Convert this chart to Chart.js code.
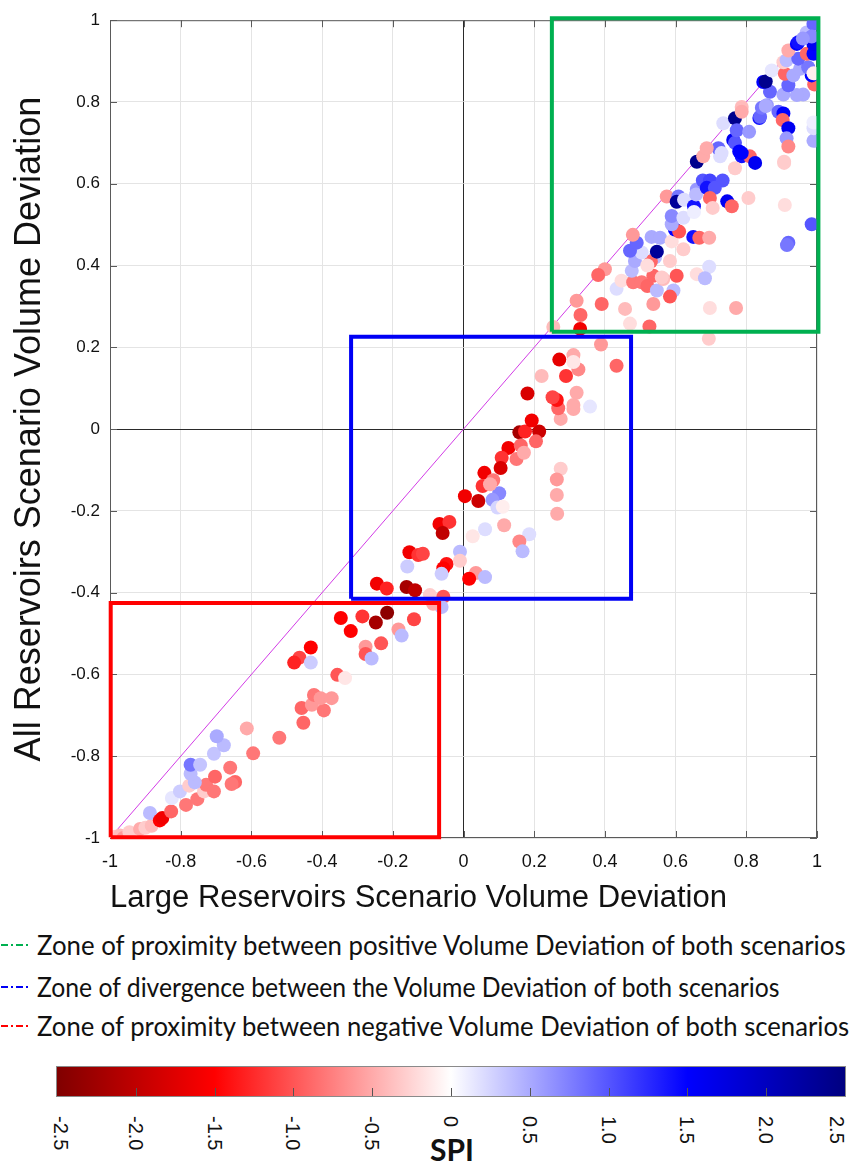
<!DOCTYPE html>
<html>
<head>
<meta charset="utf-8">
<title>Volume Deviation of both scenarios</title>
<script src="https://cdn.jsdelivr.net/npm/chart.js@4.4.1/dist/chart.umd.min.js"></script>
<style>
  html, body { margin: 0; padding: 0; background: #fff; }
  body { position: relative; width: 866px; height: 1165px; overflow: hidden; }
  #plotCanvas { position: absolute; left: 0; top: 0; }
  .legend-row { position: absolute; left: 0; width: 866px; height: 40px; }
  .legend-row svg { position: absolute; left: 0; top: 16px; }
  .legend-row span {
    position: absolute; left: 37px; top: 0; line-height: 40px; white-space: nowrap; color: #111;
    font-family: Lato, "Open Sans", sans-serif; transform-origin: 0 50%;
  }
  #colorbar {
    position: absolute; left: 56px; top: 1066px; width: 790px; height: 31px;
    box-sizing: border-box; border: 1px solid #8a8a8a;
  }
  .cb-tick { position: absolute; bottom: 0; width: 1px; height: 8px; background: #555; }
  .cb-label {
    position: absolute; top: 1116px; writing-mode: vertical-rl; line-height: 1;
    font-family: "Liberation Sans", Arial, sans-serif; font-size: 20px; color: #111;
    transform: translateX(-50%);
  }
  #spiLabel {
    position: absolute; left: 452px; top: 1132px; transform: translateX(-50%);
    font-family: Lato, "Open Sans", sans-serif;
    font-weight: bold; font-size: 30px; line-height: 34px; color: #111;
  }
</style>
</head>
<body>
<canvas id="plotCanvas" width="866" height="920"></canvas>
<div id="legend"></div>
<div id="colorbar"></div>
<div id="spiLabel">SPI</div>
<script>
// Large reservoirs (x) vs all reservoirs (y) volume deviation, coloured by SPI
const largeDev = [
  -0.985, -0.972, -0.962, -0.945, -0.915, -0.9, -0.882, -0.887, -0.859, -0.852,
  -0.827, -0.825, -0.802, -0.785, -0.753, -0.776, -0.734, -0.728, -0.706, -0.76,
  -0.772, -0.772, -0.745, -0.706, -0.678, -0.698, -0.66, -0.703, -0.646, -0.656,
  -0.613, -0.595, -0.521, -0.453, -0.458, -0.429, -0.395, -0.423, -0.404, -0.373,
  -0.357, -0.335, -0.432, -0.464, -0.479, -0.432, -0.347, -0.319, -0.286, -0.248,
  -0.216, -0.14, -0.184, -0.175, -0.233, -0.277, -0.277, -0.26,
  -0.245, -0.217, -0.161, -0.137, -0.095, -0.057, -0.062, -0.086, -0.153, -0.128,
  -0.115, -0.159, -0.048, -0.057, -0.062, -0.01, -0.01, 0.035, 0.016, 0.061,
  -0.068, -0.04, -0.059, 0.026, 0.061, 0.115, 0.186, 0.158, 0.167, 0.004,
  0.042, 0.101, 0.082, 0.096, 0.111, 0.059, 0.084, 0.054, 0.075, 0.127,
  0.108, 0.15, 0.105, 0.158, 0.174, 0.214, 0.205, 0.162, 0.171, 0.193,
  0.275, 0.264, 0.264, 0.265, 0.275, 0.268, 0.264, 0.252, 0.181, 0.311,
  0.311, 0.358, 0.32, 0.221, 0.29, 0.325, 0.271, 0.311, 0.311, 0.389, 0.433,
  0.33, 0.254, 0.331, 0.32, 0.391, 0.4, 0.381, 0.457, 0.471, 0.526,
  0.537, 0.433, 0.447, 0.48, 0.504, 0.52, 0.547, 0.565, 0.594, 0.584,
  0.537, 0.561, 0.603, 0.66, 0.695, 0.683, 0.697, 0.771, 0.694, 0.476,
  0.485, 0.542, 0.53, 0.52, 0.584, 0.504, 0.547, 0.471, 0.49, 0.479,
  0.532, 0.556, 0.589, 0.622, 0.598, 0.61, 0.589, 0.589, 0.622, 0.65,
  0.667, 0.695, 0.575, 0.608, 0.603, 0.624, 0.652, 0.652, 0.66, 0.658,
  0.677, 0.697, 0.733, 0.688, 0.711, 0.697, 0.705, 0.746, 0.759, 0.806,
  0.909, 0.985, 0.919, 0.915,
  0.66, 0.678, 0.726, 0.787, 0.81, 0.825, 0.768, 0.907, 0.787, 0.721,
  0.73, 0.688, 0.763, 0.768, 0.78, 0.735, 0.768, 0.773, 0.808, 0.837,
  0.839, 0.858, 0.787, 0.787, 0.844, 0.855, 0.891, 0.905, 0.903, 0.919,
  0.914, 0.919, 0.99, 0.99, 0.99, 0.907, 0.867, 0.905, 0.961, 0.943,
  0.848, 0.855, 0.919, 0.992, 0.872, 0.909, 0.933, 0.985, 0.952, 0.975,
  0.99, 0.905, 0.914, 0.947, 0.971, 0.99, 0.919, 0.943, 0.947, 0.99,
  0.971, 0.99, 0.985, 0.96
];
const allDev = [
  -0.997, -0.994, -1.0, -0.986, -0.978, -0.975, -0.97, -0.939, -0.957, -0.951,
  -0.935, -0.902, -0.886, -0.919, -0.905, -0.872, -0.886, -0.87, -0.886, -0.864,
  -0.843, -0.821, -0.821, -0.794, -0.773, -0.751, -0.828, -0.85, -0.863, -0.868,
  -0.732, -0.793, -0.755, -0.718, -0.682, -0.674, -0.688, -0.65, -0.658, -0.658,
  -0.601, -0.609, -0.534, -0.559, -0.571, -0.571, -0.462, -0.494, -0.458, -0.473,
  -0.449, -0.465, -0.49, -0.505, -0.524, -0.532, -0.55, -0.561,
  -0.378, -0.39, -0.386, -0.394, -0.406, -0.41, -0.435, -0.427, -0.301, -0.308,
  -0.305, -0.336, -0.33, -0.34, -0.354, -0.3, -0.322, -0.352, -0.366, -0.362,
  -0.232, -0.227, -0.254, -0.262, -0.245, -0.235, -0.257, -0.275, -0.299, -0.164,
  -0.176, -0.157, -0.173, -0.192, -0.19, -0.107, -0.125, -0.139, -0.135, -0.046,
  -0.07, -0.073, -0.095, -0.008, -0.006, -0.006, -0.03, -0.04, -0.058, 0.021,
  -0.097, -0.123, -0.161, -0.207, 0.025, 0.051, 0.071, 0.078, 0.087, 0.059,
  0.049, 0.055, 0.089, 0.13, 0.13, 0.146, 0.17, 0.181, 0.164, 0.207, 0.155,
  0.245, 0.25, 0.279, 0.314, 0.306, 0.391, 0.377, 0.294, 0.258, 0.251,
  0.306, 0.343, 0.363, 0.359, 0.359, 0.35, 0.339, 0.367, 0.339, 0.324,
  0.375, 0.371, 0.375, 0.379, 0.397, 0.369, 0.296, 0.296, 0.221, 0.387,
  0.411, 0.42, 0.41, 0.4, 0.411, 0.432, 0.434, 0.436, 0.456, 0.475,
  0.47, 0.468, 0.459, 0.44, 0.488, 0.483, 0.501, 0.521, 0.517, 0.47,
  0.468, 0.468, 0.569, 0.569, 0.556, 0.561, 0.545, 0.531, 0.586, 0.574,
  0.608, 0.608, 0.608, 0.59, 0.59, 0.565, 0.541, 0.557, 0.545, 0.565,
  0.548, 0.501, 0.456, 0.45,
  0.654, 0.667, 0.667, 0.667, 0.667, 0.651, 0.638, 0.651, 0.675, 0.687,
  0.675, 0.687, 0.707, 0.7, 0.679, 0.748, 0.76, 0.731, 0.727, 0.761,
  0.764, 0.792, 0.788, 0.776, 0.786, 0.79, 0.776, 0.772, 0.756, 0.736,
  0.711, 0.691, 0.705, 0.736, 0.75, 0.654, 0.825, 0.818, 0.818, 0.817,
  0.849, 0.85, 0.841, 0.843, 0.877, 0.869, 0.865, 0.865, 0.881, 0.885,
  0.87, 0.897, 0.902, 0.906, 0.918, 0.918, 0.926, 0.942, 0.946, 0.942,
  0.97, 0.991, 0.96, 0.955
];
const spiValues = [
  -0.3, -0.4, -0.6, -0.3, -0.5, -0.3, -0.4, 0.4, -1.5, -1.6,
  -0.9, 0.15, 0.3, -0.8, -0.8, -0.3, -0.3, -0.8, -0.8, 0.4,
  0.4, 0.8, 0.35, 0.35, 0.4, 0.5, -0.8, -0.9, -0.9, -0.8,
  -0.5, -0.8, -0.8, -0.9, -0.9, -0.6, -0.8, -0.8, -0.6, -0.6,
  -1.0, -0.15, -1.5, -1.1, -1.3, 0.3, -1.5, -1.5, -1.2, -2.2,
  -2.4, -1.1, -0.6, 0.4, -1.0, -0.6, -1.0, 0.4,
  -1.6, -1.3, -2.2, -2.0, -0.3, -1.0, 0.4, -0.5, -1.6, -1.2,
  -1.1, 0.3, -1.4, -1.5, 0.3, 0.4, -0.3, -0.6, -1.5, 0.4,
  -1.6, -1.2, -2.0, -0.15, 0.2, -0.5, 0.2, -0.7, 0.4, -1.6,
  -1.9, 0.7, 0.6, 0.25, -0.1, -1.6, -0.8, -1.2, -0.5, -1.6,
  -1.2, -0.8, -1.8, -2.2, -1.3, -1.9, -0.9, -0.9, -0.5, -1.6,
  -0.3, -0.6, -0.5, -0.5, -0.5, -0.9, -1.4, -1.1, -1.8, -0.5,
  -0.5, 0.15, -0.5, -0.4, -1.2, -0.7, -1.7, -0.5, -0.15, -0.6, -0.9,
  -1.6, -0.4, -0.9, -0.6, -0.9, -0.6, -0.9, -0.4, -0.2, -0.9,
  -0.6, 0.2, -0.2, -0.8, -0.8, -0.9, 0.4, -0.4, 0.4, -1.0,
  -0.9, -0.3, -1.0, -0.2, 0.2, 0.4, -0.2, -0.5, -0.3, 0.4,
  0.5, 0.4, -0.9, -0.2, -0.3, 0.2, 2.3, 0.9, 0.9, -0.6,
  0.5, 0.5, -0.2, -0.3, 1.5, -1.0, 0.5, 0.7, 0.2, 1.4,
  -0.9, -0.5, -0.6, 0.8, 2.3, 0.2, 1.4, 0.1, 0.6, 0.4,
  1.0, 1.1, 1.0, 1.4, 1.0, -0.9, -0.3, 1.6, -0.9, -0.3,
  -0.2, 1.0, 0.9, 0.8,
  2.4, -0.5, 0.2, 1.4, -0.9, 1.6, -0.3, -0.3, 1.5, 0.9,
  0.2, -0.5, 1.6, 1.0, 1.5, 0.2, 2.4, 0.9, 0.6, 1.4,
  0.9, 0.6, -0.4, -0.5, 0.8, 0.5, 0.9, 1.5, -0.9, 1.6,
  0.6, -0.7, 0.5, 0.2, 0.1, -0.3, 0.9, 0.5, 0.5, 0.5,
  1.5, 2.4, 0.9, -0.9, 0.15, -0.9, 0.5, 1.5, 0.5, 0.8,
  -0.1, -0.3, 0.4, 0.9, -0.9, 1.5, -0.5, 1.5, 1.4, 1.6,
  0.4, 0.9, 0.7, 0.6
];

// zones drawn as boxes, in data units
const zoneNames = [
  'Zone of proximity between positive Volume Deviation of both scenarios',
  'Zone of divergence between the Volume Deviation of both scenarios',
  'Zone of proximity between negative Volume Deviation of both scenarios'
];
const zoneXMin = [0.25, -0.318, -0.998];
const zoneXMax = [1.004, 0.474, -0.069];
const zoneYMin = [0.238, -0.415, -0.998];
const zoneYMax = [1.005, 0.226, -0.425];
const zoneColors = ['#00b050', '#0000f5', '#ff0000'];

// SPI colour scale
const spiStops = [-2.5, -1.5, 0, 1.5, 2.5];
const spiStopColors = [[128, 0, 0], [255, 0, 0], [255, 255, 255], [0, 0, 255], [0, 0, 128]];
const spiTicks = [-2.5, -2.0, -1.5, -1.0, -0.5, 0, 0.5, 1.0, 1.5, 2.0, 2.5];
const spiTickLabels = ['-2.5', '-2.0', '-1.5', '-1.0', '-0.5', '0', '0.5', '1.0', '1.5', '2.0', '2.5'];

const xTitle = 'Large Reservoirs Scenario Volume Deviation';
const yTitle = 'All Reservoirs Scenario Volume Deviation';

const sansFamily = '"Liberation Sans", Arial, sans-serif';
const legendFamily = 'Lato, "Open Sans", sans-serif';

function spiColor(v) {
    const s = Math.max(spiStops[0], Math.min(spiStops[spiStops.length - 1], v));
    for (let i = 0; i < spiStops.length - 1; i++) {
        if (s <= spiStops[i + 1]) {
            const t = (s - spiStops[i]) / (spiStops[i + 1] - spiStops[i]);
            const a = spiStopColors[i], b = spiStopColors[i + 1];
            const c = a.map((ch, k) => Math.round(ch + (b[k] - ch) * t));
            return `rgb(${c[0]}, ${c[1]}, ${c[2]})`;
        }
    }
    return 'rgb(0, 0, 128)';
}

function textWidth(text, font) {
    const ctx = document.createElement('canvas').getContext('2d');
    ctx.font = font;
    return ctx.measureText(text).width;
}

function fitFontSize(text, weight, family, width) {
    return 100 * width / textWidth(text, `${weight} 100px ${family}`);
}

function zoneOutline(i) {
    return [
        {x: zoneXMin[i], y: zoneYMin[i]}, {x: zoneXMax[i], y: zoneYMin[i]},
        {x: zoneXMax[i], y: zoneYMax[i]}, {x: zoneXMin[i], y: zoneYMax[i]},
        {x: zoneXMin[i], y: zoneYMin[i]}
    ];
}

function formatTick(v) {
    return String(Math.round(v * 10) / 10);
}

// MATLAB style box with inward tick marks
const axesBox = {
    id: 'axesBox',
    beforeDatasetsDraw(chart) {
        const {ctx, chartArea: a, scales: {x, y}} = chart;
        ctx.save();
        ctx.strokeStyle = '#5a5a5a';
        ctx.lineWidth = 1;
        ctx.strokeRect(a.left + 0.5, a.top + 0.5, a.right - a.left - 1, a.bottom - a.top - 1);
        ctx.beginPath();
        x.ticks.forEach(t => {
            const px = Math.round(x.getPixelForValue(t.value)) + 0.5;
            ctx.moveTo(px, a.bottom); ctx.lineTo(px, a.bottom - 7);
            ctx.moveTo(px, a.top); ctx.lineTo(px, a.top + 7);
        });
        y.ticks.forEach(t => {
            const py = Math.round(y.getPixelForValue(t.value)) + 0.5;
            ctx.moveTo(a.left, py); ctx.lineTo(a.left + 7, py);
            ctx.moveTo(a.right, py); ctx.lineTo(a.right - 7, py);
        });
        ctx.stroke();
        ctx.restore();
    }
};

function buildChart() {
    const xTitleSize = fitFontSize(xTitle, 'normal', sansFamily, 617);
    const yTitleSize = fitFontSize(yTitle, 'normal', sansFamily, 665);
    const gridColor = c => (c.tick && Math.abs(c.tick.value) < 1e-9) ? '#2a2a2a' : '#e4e4e4';

    const zoneSets = zoneNames.map((name, i) => ({
        type: 'line',
        label: name,
        data: zoneOutline(i),
        borderColor: zoneColors[i],
        borderWidth: 4,
        borderJoinStyle: 'miter',
        pointRadius: 0,
        fill: false,
        clip: false,
        order: 0
    }));

    const ctx = document.getElementById('plotCanvas').getContext('2d');
    return new Chart(ctx, {
        type: 'scatter',
        data: {
            datasets: [
                ...zoneSets,
                {
                    label: 'SPI',
                    data: largeDev.map((x, i) => ({x: x, y: allDev[i]})),
                    pointBackgroundColor: spiValues.map(spiColor),
                    pointBorderWidth: 0,
                    borderWidth: 0,
                    pointRadius: 7,
                    order: 2
                },
                {
                    type: 'line',
                    label: '1:1',
                    data: [{x: -1, y: -1}, {x: 1, y: 1}],
                    borderColor: '#d23be6',
                    borderWidth: 1,
                    pointRadius: 0,
                    order: 3
                }
            ]
        },
        options: {
            responsive: false,
            animation: false,
            devicePixelRatio: 1,
            layout: { padding: { left: 0, top: 15, right: 49, bottom: 0 } },
            plugins: { legend: { display: false }, tooltip: { enabled: false } },
            scales: {
                x: {
                    type: 'linear', min: -1, max: 1,
                    ticks: {
                        stepSize: 0.2, callback: formatTick, autoSkip: false, maxRotation: 0,
                        font: { family: sansFamily, size: 18 }, color: '#111', padding: 13
                    },
                    grid: { color: gridColor, drawTicks: false },
                    border: { display: false },
                    title: {
                        display: true, text: xTitle, align: 'start', color: '#111',
                        font: { family: sansFamily, size: xTitleSize },
                        padding: { top: 0, bottom: 920 - 898 - 0.6 * xTitleSize }
                    },
                    afterFit: s => { s.height = 82; }
                },
                y: {
                    type: 'linear', min: -1, max: 1,
                    ticks: {
                        stepSize: 0.2, callback: formatTick, autoSkip: false,
                        font: { family: sansFamily, size: 17 }, color: '#111', padding: 10
                    },
                    grid: { color: gridColor, drawTicks: false },
                    border: { display: false },
                    title: {
                        display: true, text: yTitle, color: '#111',
                        font: { family: sansFamily, size: yTitleSize },
                        padding: { top: 30 - 0.6 * yTitleSize, bottom: 0 }
                    },
                    afterFit: s => { s.width = 110; }
                }
            }
        },
        plugins: [axesBox]
    });
}

function buildLegend() {
    const legend = document.getElementById('legend');
    const rowCentres = [945, 987, 1026];
    const rowWidths = [811, 744, 815];
    const size = 26;
    legend.innerHTML = zoneNames.map((name, i) => {
        const sx = rowWidths[i] / textWidth(name, `normal ${size}px ${legendFamily}`);
        return `
        <div class="legend-row" style="top:${rowCentres[i] - 20}px">
            <svg width="32" height="8"><line x1="1" y1="4" x2="30" y2="4" stroke="${zoneColors[i]}"
                stroke-width="2" stroke-dasharray="7 3 2 3"/></svg>
            <span style="font-size:${size}px; transform:scaleX(${sx.toFixed(3)})">${name}</span>
        </div>`;
    }).join('');
}

function buildColorbar() {
    const bar = document.getElementById('colorbar');
    const stops = spiStops.map((v, i) => {
        const c = spiStopColors[i];
        return `rgb(${c[0]},${c[1]},${c[2]}) ${((v + 2.5) / 5 * 100).toFixed(1)}%`;
    });
    bar.style.background = `linear-gradient(to right, ${stops.join(', ')})`;
    const inner = 788;
    let html = '';
    spiTicks.forEach((v, i) => {
        if (i > 0 && i < spiTicks.length - 1) {
            html += `<div class="cb-tick" style="left:${Math.round((v + 2.5) / 5 * inner)}px"></div>`;
        }
    });
    bar.innerHTML = html;
    spiTicks.forEach((v, i) => {
        const el = document.createElement('div');
        el.className = 'cb-label';
        let x = 57 + (v + 2.5) / 5 * inner;
        if (i === 0) x += 4;
        if (i === spiTicks.length - 1) x -= 8;
        el.style.left = x + 'px';
        el.textContent = spiTickLabels[i];
        document.body.appendChild(el);
    });
}

buildChart();
buildLegend();
buildColorbar();
</script>
</body>
</html>
